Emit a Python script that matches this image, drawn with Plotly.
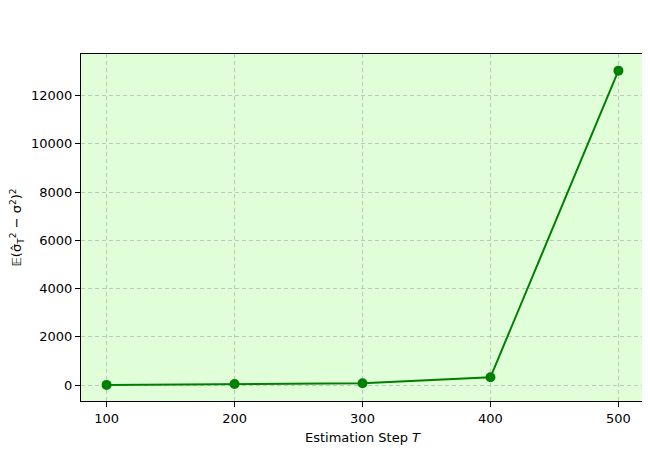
import plotly.graph_objects as go

steps = [100, 200, 300, 400, 500]
mse = [5, 40, 70, 320, 13030]
x_ticks = [100, 200, 300, 400, 500]
y_ticks = [0, 2000, 4000, 6000, 8000, 10000, 12000]

fig = go.Figure()
fig.add_trace(go.Scatter(
    x=steps, y=mse, mode="lines+markers",
    line=dict(color="#008000", width=2),
    marker=dict(color="#008000", size=10),
    showlegend=False,
))

axis_common = dict(
    showline=True, linecolor="black", linewidth=1, mirror=True,
    ticks="outside", ticklen=5, tickcolor="black", tickwidth=1,
    showgrid=True, gridcolor="rgba(176,176,176,0.7)", griddash="4px,3px", gridwidth=1,
    zeroline=False, automargin=False,
    tickfont=dict(family="DejaVu Sans", size=13, color="black"),
)

fig.update_xaxes(
    range=[80, 520], tickvals=x_ticks, ticktext=[str(v) for v in x_ticks],
    title=dict(text="Estimation Step <i>T</i>", font=dict(family="DejaVu Sans", size=13, color="black"), standoff=8),
    **axis_common,
)
fig.update_yaxes(
    range=[-663, 13720], tickvals=y_ticks, ticktext=[str(v) for v in y_ticks],
    title=dict(text="𝔼(σ̂<sub>T</sub><sup>2</sup> − σ<sup>2</sup>)<sup>2</sup>", font=dict(family="DejaVu Sans", size=13, color="black"), standoff=16),
    **axis_common,
)

fig.update_layout(
    width=642, height=442,
    margin=dict(l=73, r=6, t=46, b=49),
    plot_bgcolor="#e0ffd8",
    paper_bgcolor="white",
    font=dict(family="DejaVu Sans", size=13, color="black"),
)

fig.write_html("out.html")
